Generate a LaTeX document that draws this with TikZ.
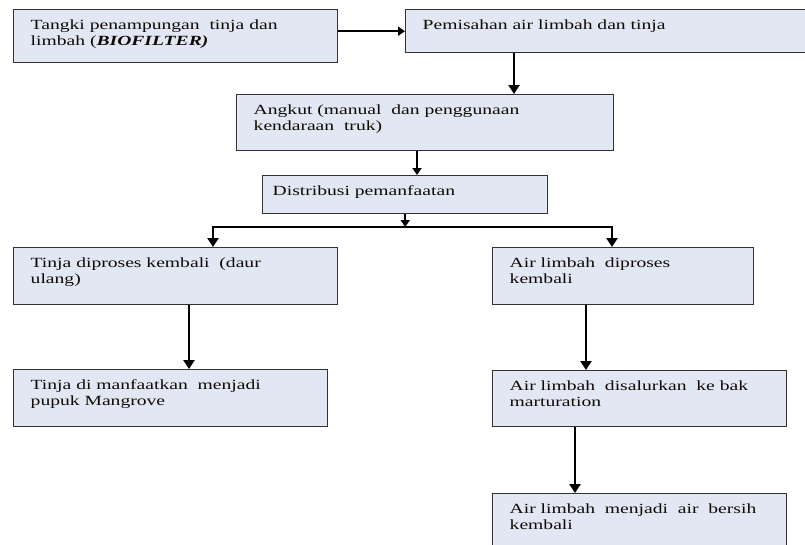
\documentclass[tikz,border=0pt]{standalone}
\usepackage{fontspec}
\setmainfont[FakeStretch=1.4]{Liberation Serif}
\usetikzlibrary{arrows.meta}

\definecolor{boxfill}{RGB}{225,232,243}
\definecolor{boxline}{RGB}{50,50,50}
\definecolor{inktext}{RGB}{15,10,5}

\newcommand{\flowbox}[7][17]{%
  \node[procbox, inner xsep=#1pt] (#2) at (#3,#4)
    {\parbox[c][#6pt][t]{\dimexpr#5pt-#1pt-#1pt\relax}{\raggedright\rule{0pt}{19.5pt}#7}};}

\begin{document}
\begin{tikzpicture}[x=1pt,y=-1pt,
    procbox/.style={draw=boxline, fill=boxfill, line width=1.4pt, inner ysep=0pt,
      anchor=north west, text=inktext, font=\fontsize{14}{16.3}\selectfont},
    arr/.style={-{Triangle[width=11pt,length=9pt]}, line width=2.8pt},
    arrthin/.style={-{Triangle[width=9pt,length=7pt]}, line width=2pt}]

    \useasboundingbox (0,0) rectangle (805,544);
    \clip (0,0) rectangle (805,544);

    \flowbox{tank}{13}{9}{324}{53}{Tangki penampungan\ \ tinja dan\\limbah (\textbf{\textit{BIOFILTER)}}}
    \flowbox{pisah}{405}{9}{410}{43}{Pemisahan air limbah dan tinja}
    \flowbox{angkut}{236}{94}{377}{56}{Angkut (manual\ \ dan penggunaan\\kendaraan\ \ truk)}
    \flowbox[10]{distrib}{262}{175}{285}{38}{Distribusi pemanfaatan}
    \flowbox{tinja}{13}{247}{324}{57}{Tinja diproses kembali\ \ (daur\\ulang)}
    \flowbox{pupuk}{13}{369}{314}{57}{Tinja di manfaatkan\ \ menjadi\\pupuk Mangrove}
    \flowbox{airA}{492}{247}{261}{57}{Air limbah\ \ diproses\\kembali}
    \flowbox{airB}{492}{370}{294}{56}{Air limbah\ \ disalurkan\ \ ke bak\\marturation}
    \flowbox{airC}{492}{493}{294}{70}{Air limbah\ \ menjadi\ \ air\ \ bersih\\kembali}

    \coordinate (c1) at (514,0);
    \coordinate (c2) at (417,0);
    \coordinate (forkL) at (213,227);
    \coordinate (forkR) at (612,227);
    \coordinate (c5) at (189,0);
    \coordinate (c7) at (586,0);
    \coordinate (c8) at (575,0);

    \draw[arrthin] (tank.east |- pisah.west) -- (pisah.west);
    \draw[arr] (pisah.south -| c1) -- (angkut.north -| c1);
    \draw[arrthin, line width=2.4pt] (angkut.south -| c2) -- (distrib.north -| c2);
    \draw[arrthin] (distrib.south) -- (distrib.south |- forkL);
    \draw[line width=2.6pt, line cap=rect] (forkL) -- (forkR);
    \draw[arr] (forkL) -- (forkL |- tinja.north);
    \draw[arr] (forkR) -- (forkR |- airA.north);
    \draw[arr] (tinja.south -| c5) -- (pupuk.north -| c5);
    \draw[arr] (airA.south -| c7) -- (airB.north -| c7);
    \draw[arr] (airB.south -| c8) -- (airC.north -| c8);

\end{tikzpicture}
\end{document}
